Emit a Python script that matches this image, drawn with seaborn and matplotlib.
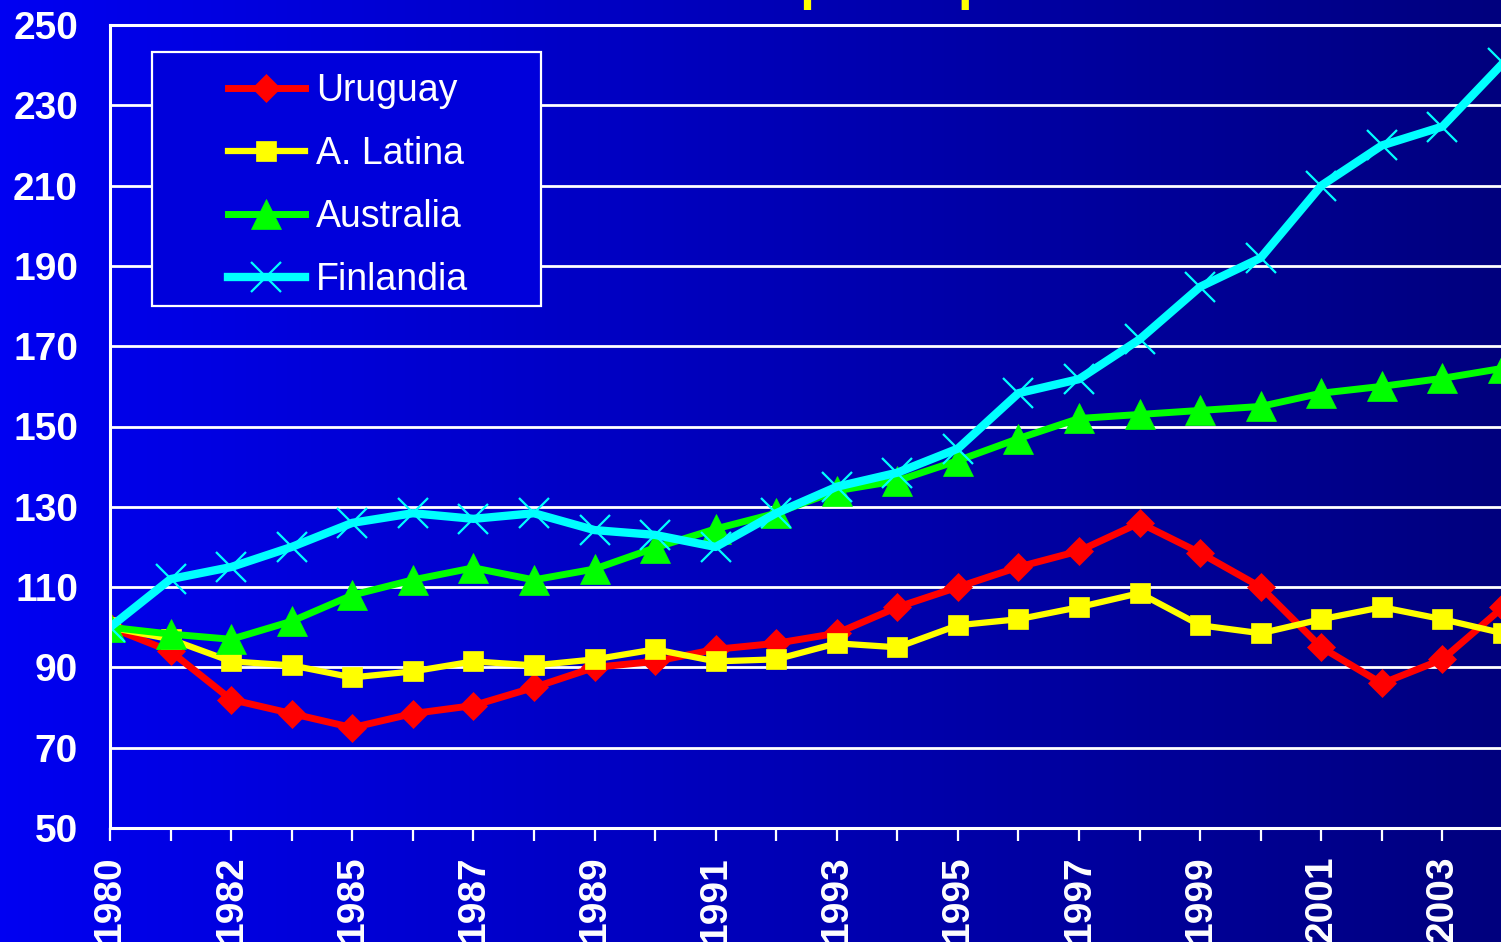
import numpy as np
import seaborn as sns
import matplotlib.pyplot as plt
from matplotlib.colors import LinearSegmentedColormap
from matplotlib.patches import Rectangle

# index 1980 = 100
years = ["1980", "1981", "1982", "1984", "1985", "1986", "1987", "1988",
         "1989", "1990", "1991", "1992", "1993", "1994", "1995", "1996",
         "1997", "1998", "1999", "2000", "2001", "2002", "2003", "2004"]
uruguay = [100, 94, 82, 78.5, 75, 78.5, 80.5, 85, 90, 91.5, 94.5, 96,
           98.5, 105, 110, 115, 119, 126, 118.5, 110, 95, 86, 92, 105]
alatina = [100, 97, 91.5, 90.5, 87.5, 89, 91.5, 90.5, 92, 94.5, 91.5, 92,
           96, 95, 100.5, 102, 105, 108.5, 100.5, 98.5, 102, 105, 102, 98.5]
australia = [100, 98.3, 97, 101.5, 108, 111.8, 114.8, 111.8, 114.5, 119.8,
             124.5, 128.4, 134, 136.5, 141.5, 147, 152, 153, 154, 155,
             158.3, 160, 162, 164.5]
finlandia = [100, 112, 115, 120, 126, 128.4, 127, 128.4, 124.2, 123, 120,
             128.4, 135, 138.5, 144.5, 158.3, 161.8, 171.7, 184.8, 192, 210,
             220, 224.7, 240.5]

plt.rcParams["font.family"] = ["Liberation Sans", "DejaVu Sans"]

W, H = 1501, 942
fig = plt.figure(figsize=(W / 100, H / 100), dpi=100)

# horizontal blue gradient behind everything
bg_cmap = LinearSegmentedColormap.from_list("bg", ["#0000f2", "#00007e"])
bg = fig.add_axes([0, 0, 1, 1])
bg.imshow(np.linspace(0, 1, 256)[None, :], cmap=bg_cmap, aspect="auto",
          extent=[0, 1, 0, 1])
bg.set_axis_off()

ax = fig.add_axes([110 / W, (H - 828) / H, 1393 / W, 803 / H])
ax.set_facecolor("none")

pos = np.arange(len(years))
series = [
    ("Uruguay", uruguay, "#ff0000", "D", 14.5, 5.0, 0.5),
    ("A. Latina", alatina, "#ffff00", "s", 14, 4.5, 0.5),
    ("Australia", australia, "#00ff00", "^", 21, 5.0, 0.5),
    ("Finlandia", finlandia, "#00ffff", "x", 21, 6.0, 1.6),
]
for name, vals, col, mk, ms, lw, mew in series:
    sns.lineplot(x=pos, y=vals, ax=ax, color=col, marker=mk, markersize=ms,
                 linewidth=lw, markeredgecolor=col, markeredgewidth=mew,
                 label=name, legend=False)

ax.set_xlim(0, len(years) - 1)
ax.set_ylim(50, 250)
ax.set_yticks(range(50, 251, 20))
ax.set_xticks(pos)
ax.set_xticklabels([y if i % 2 == 0 else "" for i, y in enumerate(years)],
                   rotation=90)
ax.set_xlabel("")
ax.set_ylabel("")

ax.yaxis.grid(True, color="white", linewidth=2)
ax.set_axisbelow(True)
for s in ["left", "bottom", "top"]:
    ax.spines[s].set_color("white")
    ax.spines[s].set_linewidth(2.2)
ax.spines["right"].set_visible(False)

ax.tick_params(axis="y", length=0, pad=23, labelcolor="white", labelsize=28)
ax.tick_params(axis="x", length=9, width=1.6, color="white", direction="out",
               pad=11, labelcolor="white", labelsize=28)
for lab in ax.get_xticklabels() + ax.get_yticklabels():
    lab.set_fontweight("bold")

# legend box
leg_fill = bg_cmap(0.2)
fig.patches.append(Rectangle((152 / W, (H - 306) / H), 389 / W, 254 / H,
                             transform=fig.transFigure, facecolor=leg_fill,
                             edgecolor="white", linewidth=1.6, zorder=5))
handles, labels = ax.get_legend_handles_labels()
leg = fig.legend(handles, labels, loc="upper left",
                 bbox_to_anchor=(228 / W, (H - 73) / H),
                 bbox_transform=fig.transFigure, frameon=False, borderpad=0,
                 borderaxespad=0, fontsize=27, labelcolor="white",
                 handlelength=2.05, handletextpad=0.3, labelspacing=0.72)
leg.set_zorder(6)

# title cut off at the top of the slide
fig.text(696 / W, 1 + 1.5 / H, "PIB per cápita", color="#ffff00",
         fontsize=38.5, fontweight="bold", va="baseline", ha="left")

fig.savefig("out.png", dpi=100)
